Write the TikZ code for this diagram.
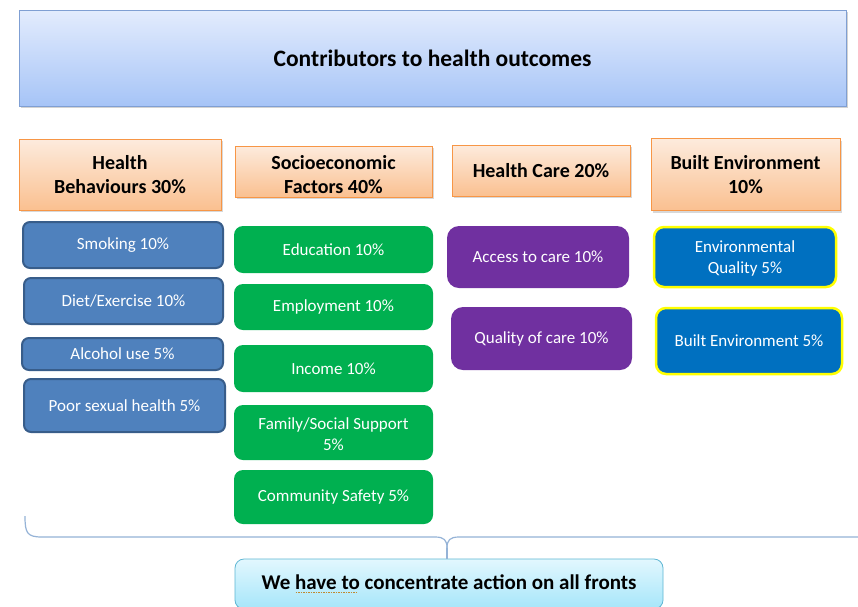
\documentclass[tikz,border=0pt]{standalone}
\usepackage{fontspec}
\setmainfont{Carlito}
\usetikzlibrary{shadows}
\definecolor{ttop}{HTML}{E3ECFD}
\definecolor{tbot}{HTML}{A6C4F7}
\definecolor{tbord}{HTML}{7F9FD3}
\definecolor{otop}{HTML}{FDEBDD}
\definecolor{obot}{HTML}{FAC090}
\definecolor{obord}{HTML}{F79646}
\definecolor{bfill}{HTML}{4F81BD}
\definecolor{bbord}{HTML}{385D8A}
\definecolor{gfill}{HTML}{00B050}
\definecolor{pfill}{HTML}{7030A0}
\definecolor{efill}{HTML}{0070C0}
\definecolor{ybord}{HTML}{FFFF00}
\definecolor{brc}{HTML}{95B3D7}
\definecolor{ctop}{HTML}{E2F7FE}
\definecolor{cbot}{HTML}{A6E6FA}
\definecolor{cbord}{HTML}{5DB6D3}
\definecolor{sq}{HTML}{C08A30}
\newcommand\dotul[1]{\setbox0\hbox{#1}\rlap{\raisebox{-4pt}{\hbox{\color{sq}\leaders\hbox to 2.5pt{\hss\rule{1.6pt}{1pt}\hss}\hskip\wd0}}}\box0\relax}
\begin{document}
\begin{tikzpicture}[x=1pt,y=-1pt,
  titlebox/.style={draw=tbord, line width=0.8pt, top color=ttop, bottom color=tbot, font=\fontsize{23.5}{28}\selectfont\bfseries, drop shadow={shadow xshift=2pt, shadow yshift=-2pt, opacity=0.35}},
  hdr/.style={draw=obord, line width=0.8pt, top color=otop, bottom color=obot, align=center, font=\fontsize{20}{24}\selectfont\bfseries, drop shadow={shadow xshift=2pt, shadow yshift=-2pt, opacity=0.3}, inner sep=0pt},
  hdrtxt/.style={align=center, font=\fontsize{20}{24}\selectfont\bfseries, inner sep=0pt},
  bbox/.style={draw=bbord, line width=2pt, fill=bfill, rounded corners=7pt, text=white, align=center, font=\fontsize{17}{21}\selectfont, inner sep=0pt},
  gbox/.style={fill=gfill, rounded corners=9pt, text=white, align=center, font=\fontsize{17}{21}\selectfont, inner sep=0pt},
  wtxt/.style={text=white, align=center, font=\fontsize{17}{21}\selectfont, inner sep=0pt},
  pbox/.style={fill=pfill, rounded corners=12pt, text=white, align=center, font=\fontsize{17}{21}\selectfont, inner sep=0pt},
  ebox/.style={draw=ybord, line width=2.5pt, fill=efill, rounded corners=10pt, text=white, align=center, font=\fontsize{17}{21}\selectfont, inner sep=0pt},
  botbox/.style={draw=cbord, line width=0.8pt, top color=ctop, bottom color=cbot, rounded corners=9pt, font=\fontsize{21}{25}\selectfont\bfseries, inner sep=0pt},
  brace/.style={draw=brc, line width=1.2pt}
]
\clip (0,0) rectangle (858,606);
\fill[white] (0,0) rectangle (858,606);

% title
\node[titlebox, minimum width=827pt, minimum height=96pt] (title) at (432.5,58) {Contributors to health outcomes};

% headers
\node[hdr, minimum width=202pt, minimum height=71pt] (hb) at (120,174.5) {Health\\Behaviours 30\%};
\node[hdr, minimum width=197pt, minimum height=51pt] (se) at (333.5,171.5) {};
\node[hdrtxt] (setxt) at ([yshift=-3.5pt]se.center) {Socioeconomic\\Factors 40\%};
\node[hdr, minimum width=178pt, minimum height=51pt] (hc) at (541,170.5) {Health Care 20\%};
\node[hdr, minimum width=189pt, minimum height=72pt] (be) at (745.5,174.5) {Built Environment\\10\%};

% health behaviours
\node[bbox, minimum width=200pt, minimum height=46pt] (smk) at (123,245) {Smoking 10\%};
\node[bbox, minimum width=199pt, minimum height=46pt] (diet) at (123.5,301) {Diet/Exercise 10\%};
\node[bbox, minimum width=201pt, minimum height=32pt] (alc) at (122.5,354) {Alcohol use 5\%};
\node[bbox, minimum width=201pt, minimum height=53pt] (sex) at (124.5,405.5) {Poor sexual health 5\%};

% socioeconomic
\node[gbox, minimum width=199pt, minimum height=47pt] (edu) at (333.5,249.5) {Education 10\%};
\node[gbox, minimum width=199pt, minimum height=46pt] (emp) at (333.5,307) {Employment 10\%};
\node[gbox, minimum width=199pt, minimum height=47pt] (inc) at (333.5,368.5) {Income 10\%};
\node[gbox, minimum width=199pt, minimum height=55pt] (fam) at (333.5,432.5) {};
\node[wtxt] (famtxt) at ([yshift=-2pt]fam.center) {Family/Social Support\\5\%};
\node[gbox, minimum width=199pt, minimum height=54pt] (com) at (333.5,497) {Community Safety 5\%};

% health care
\node[pbox, minimum width=182pt, minimum height=62pt] (acc) at (538,257) {Access to care 10\%};
\node[pbox, minimum width=181pt, minimum height=63pt] (qoc) at (541.5,338.5) {Quality of care 10\%};

% built environment
\node[ebox, minimum width=182pt, minimum height=60pt] (envq) at (745,257) {};
\node[wtxt] (envtxt) at ([yshift=-1.5pt]envq.center) {Environmental\\Quality 5\%};
\node[ebox, minimum width=186pt, minimum height=66pt] (benv) at (749,341) {Built Environment 5\%};

% bottom
\node[botbox, minimum width=428pt, minimum height=50pt] (bot) at (449,584) {We \dotul{have to} concentrate action on all fronts};

% brace
\coordinate (bl) at (25,516);
\coordinate (br) at (860,537);
\coordinate (tip) at (447,548);
\draw[brace] (bl) .. controls (25,533) and (27,537) .. (42,537) -- (435,537) .. controls (444,537) and (447,540) .. (tip);
\draw[brace] (br) -- (459,537) .. controls (450,537) and (447,540) .. (tip);
\draw[brace] (tip) -- (tip |- bot.north);
\end{tikzpicture}
\end{document}
